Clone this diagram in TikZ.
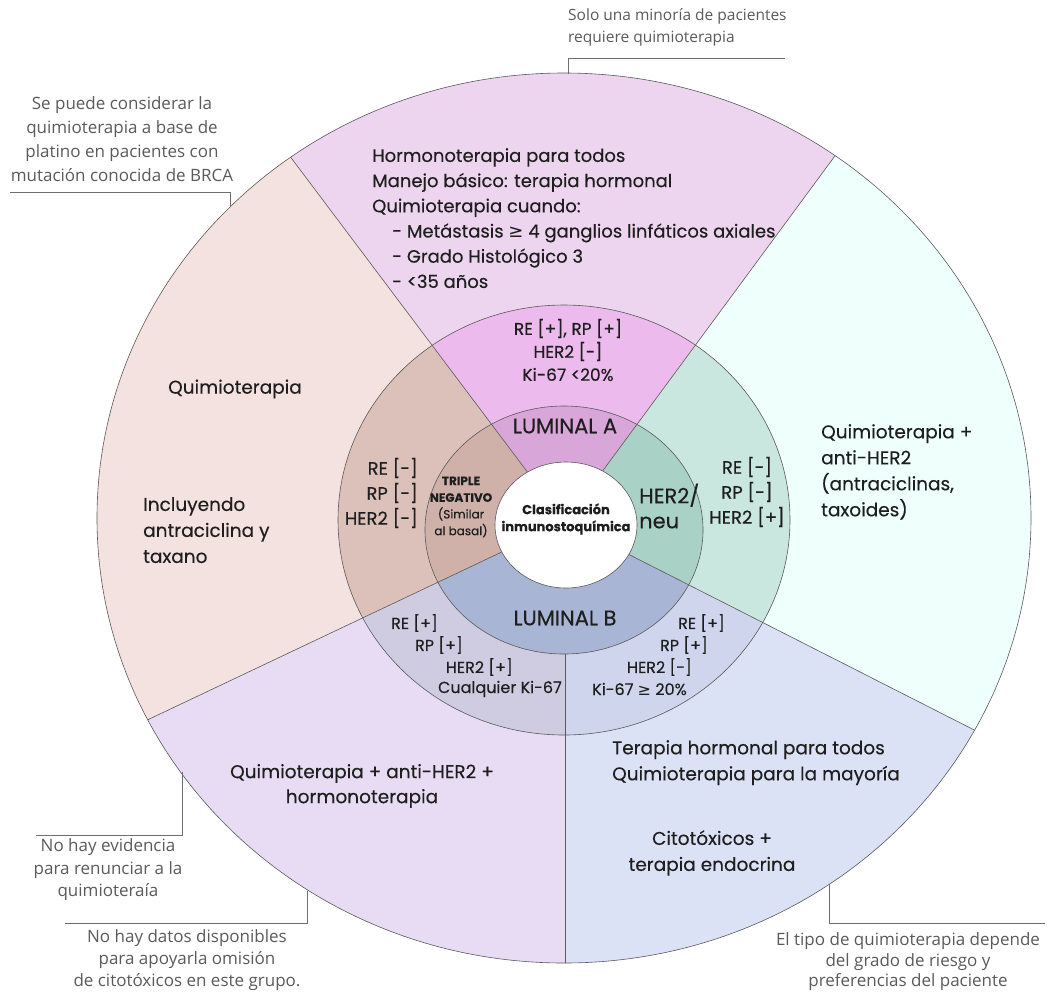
\documentclass[tikz,border=0pt]{standalone}
\usepackage{fontspec}
\setmainfont{Poppins}[FakeBold=0.25]
\newfontfamily\callfont{Open Sans}
\newfontfamily\symfont{DejaVu Sans}
\definecolor{oTop}{HTML}{EED5EF}
\definecolor{mTop}{HTML}{ECBAEC}
\definecolor{iTop}{HTML}{D8A6D8}
\definecolor{oLeft}{HTML}{F4E2E0}
\definecolor{mLeft}{HTML}{DCC1BB}
\definecolor{iLeft}{HTML}{CFB1AA}
\definecolor{oRight}{HTML}{EFFFFB}
\definecolor{mRight}{HTML}{C9E6DF}
\definecolor{iRight}{HTML}{A9D1C5}
\definecolor{oBL}{HTML}{E8DCF4}
\definecolor{mBL}{HTML}{CFCCE2}
\definecolor{oBR}{HTML}{DCE2F6}
\definecolor{mBR}{HTML}{CFD5EC}
\definecolor{iBot}{HTML}{A9B5D5}
\definecolor{lineg}{HTML}{5A5A5A}
\definecolor{leadg}{HTML}{6E6E6E}
\definecolor{callg}{HTML}{5A5A5A}
\definecolor{txtc}{HTML}{1E1E1E}
\newcommand\wfill[3]{\begin{scope}\clip #1;\fill[#2] #3;\end{scope}}
\begin{document}
\begin{tikzpicture}[x=1pt,y=-1pt,
  edge/.style={draw=lineg, line width=0.6pt},
  lead/.style={draw=leadg, line width=0.8pt},
  maintxt/.style={font=\fontsize{18.5}{26}\selectfont, text=txtc, inner sep=0pt},
  ringtxt/.style={font=\fontsize{16}{22}\selectfont, text=txtc, inner sep=0pt},
  lumtxt/.style={font=\fontsize{21}{25}\selectfont, text=txtc, inner sep=0pt},
  calltxt/.style={font=\callfont\fontsize{17}{22.5}\selectfont, text=callg, inner sep=0pt, align=center},
]
\useasboundingbox (0,0) rectangle (1051,994);
% geometry
\coordinate (C) at (565,522);
\coordinate (F1) at (-530,-934);
\coordinate (F2) at (1674,-982);
\coordinate (F3) at (2202,1354);
\coordinate (F4) at (-1106,1314);
\coordinate (FBL) at (-1106,3000);
\coordinate (FBM) at (565,3000);
\coordinate (FBR) at (2202,3000);
\coordinate (OC) at (564,518);
\coordinate (MC) at (564,520);
\coordinate (IC) at (564,530);
\coordinate (WC) at (566,525);
\def\outerE{(OC) ellipse [x radius=467pt, y radius=445pt]}
\def\midE{(MC) ellipse [x radius=226pt, y radius=215pt]}
\def\innE{(IC) ellipse [x radius=139pt, y radius=124pt]}
% outer ring fills
\wfill{(C) -- (F1) -- (F2) -- cycle}{oTop}{\outerE}
\wfill{(C) -- (F2) -- (F3) -- cycle}{oRight}{\outerE}
\wfill{(C) -- (F4) -- (F1) -- cycle}{oLeft}{\outerE}
\wfill{(C) -- (F4) -- (FBL) -- (FBM) -- cycle}{oBL}{\outerE}
\wfill{(C) -- (FBM) -- (FBR) -- (F3) -- cycle}{oBR}{\outerE}
% middle ring fills
\wfill{(C) -- (F1) -- (F2) -- cycle}{mTop}{\midE}
\wfill{(C) -- (F2) -- (F3) -- cycle}{mRight}{\midE}
\wfill{(C) -- (F4) -- (F1) -- cycle}{mLeft}{\midE}
\wfill{(C) -- (F4) -- (FBL) -- (FBM) -- cycle}{mBL}{\midE}
\wfill{(C) -- (FBM) -- (FBR) -- (F3) -- cycle}{mBR}{\midE}
% vertical divider
\begin{scope}
\clip \outerE;
\draw[edge] (C) -- (FBM);
\end{scope}
% inner ring fills
\wfill{(C) -- (F1) -- (F2) -- cycle}{iTop}{\innE}
\wfill{(C) -- (F2) -- (F3) -- cycle}{iRight}{\innE}
\wfill{(C) -- (F4) -- (F1) -- cycle}{iLeft}{\innE}
\wfill{(C) -- (F4) -- (FBL) -- (FBR) -- (F3) -- cycle}{iBot}{\innE}
% radial dividers
\begin{scope}
\clip \outerE;
\draw[edge] (C) -- (F1);
\draw[edge] (C) -- (F2);
\draw[edge] (C) -- (F3);
\draw[edge] (C) -- (F4);
\end{scope}
% outlines
\draw[edge] \outerE;
\draw[edge] \midE;
\draw[edge] \innE;
\draw[edge, fill=white] (WC) ellipse [x radius=71pt, y radius=63pt];

% centre label
\node[font=\bfseries\fontsize{13}{17}\selectfont, text=txtc, align=center, inner sep=0pt] (centre) at (566,519) {Clasificación\\inmunostoquímica};

% inner ring labels
\node[lumtxt] (luma) at (565,426) {LUMINAL A};
\node[lumtxt] (lumb) at (565,618) {LUMINAL B};
\node[lumtxt, align=left, anchor=west] (her2neu) at (639,506) {HER2/\\neu};
\node[font=\fontsize{12}{16.7}\selectfont, text=txtc, inner sep=0pt, align=center] (tn) at (461,507) {\bfseries TRIPLE\\\bfseries NEGATIVO\\(Similar\\al basal)};

% middle ring labels
\node[ringtxt, font=\fontsize{17}{23}\selectfont, align=center] (mtop) at (568,350) {RE [+], RP [+]\\HER2 [-]\\Ki-67 <20\%};
\node[ringtxt, font=\fontsize{18}{25}\selectfont, align=right, anchor=east] (mleft) at (418,493) {RE [-]\\RP [-]\\HER2 [-]};
\node[ringtxt, font=\fontsize{18}{25}\selectfont, align=center] (mright) at (747,492) {RE [-]\\RP [-]\\HER2 [+]};
\node[ringtxt, anchor=east] (bl1) at (438,623) {RE [+]};
\node[ringtxt, anchor=east] (bl2) at (463,645) {RP [+]};
\node[ringtxt, anchor=east] (bl3) at (513,667) {HER2 [+]};
\node[ringtxt, anchor=east] (bl4) at (562,689) {Cualquier Ki-67};
\node[ringtxt, anchor=east] (br1) at (725,623) {RE [+]};
\node[ringtxt, anchor=east] (br2) at (708,645) {RP [+]};
\node[ringtxt, anchor=east] (br3) at (692,667) {HER2 [-]};
\node[ringtxt, anchor=east] (br4) at (687,689) {Ki-67 {\symfont ≥} 20\%};

% outer ring labels
\node[maintxt, font=\fontsize{18}{25.2}\selectfont, align=left, anchor=north west] (otop) at (372,148) {Hormonoterapia para todos\\Manejo básico: terapia hormonal\\Quimioterapia cuando:\\\hspace*{20pt}- Metástasis {\symfont ≥} 4 ganglios linfáticos axiales\\\hspace*{20pt}- Grado Histológico 3\\\hspace*{20pt}- <35 años};
\node[maintxt, anchor=west] (oleft1) at (168,389) {Quimioterapia};
\node[maintxt, align=left, anchor=north west] (oleft2) at (143,497) {Incluyendo\\antraciclina y\\taxano};
\node[maintxt, align=left, anchor=north west] (oright) at (821,424) {Quimioterapia +\\anti-HER2\\(antraciclinas,\\taxoides)};
\node[maintxt, font=\fontsize{18.5}{25}\selectfont, align=center] (obl) at (362,786) {Quimioterapia + anti-HER2 +\\hormonoterapia};
\node[maintxt, align=left, anchor=north west] (obr1) at (612,740) {Terapia hormonal para todos\\Quimioterapia para la mayoría};
\node[maintxt, align=center] (obr2) at (712,853) {Citotóxicos +\\terapia endocrina};

% callouts
\node[calltxt, font=\callfont\fontsize{15.5}{22}\selectfont, align=left, anchor=north west] (c1) at (568,8) {Solo una minoría de pacientes\\requiere quimioterapia};
\coordinate (c1a) at (568,74);
\coordinate (c1b) at (785,58);
\draw[lead] (c1a) |- (c1b);

\node[calltxt, font=\callfont\fontsize{17}{24}\selectfont] (c2) at (122,139) {Se puede considerar la\\quimioterapia a base de\\platino en pacientes con\\mutación conocida de BRCA};
\coordinate (c2a) at (230,207);
\coordinate (c2b) at (10,192);
\draw[lead] (c2a) |- (c2b);

\node[calltxt] (c3) at (108,870) {No hay evidencia\\para renunciar a la\\quimioteraía};
\coordinate (c3a) at (182,772);
\coordinate (c3b) at (36,835);
\draw[lead] (c3a) |- (c3b);

\node[calltxt, font=\callfont\fontsize{17}{22}\selectfont] (c4) at (187,960) {No hay datos disponibles\\para apoyarla omisión\\de citotóxicos en este grupo.};
\coordinate (c4a) at (307,891);
\coordinate (c4b) at (65,923);
\draw[lead] (c4a) |- (c4b);

\node[calltxt, font=\callfont\fontsize{17}{20.5}\selectfont] (c5) at (908,962) {El tipo de quimioterapia depende\\del grado de riesgo y\\preferencias del paciente};
\coordinate (c5a) at (829,884);
\coordinate (c5b) at (1045,923);
\draw[lead] (c5a) |- (c5b);
\end{tikzpicture}
\end{document}
